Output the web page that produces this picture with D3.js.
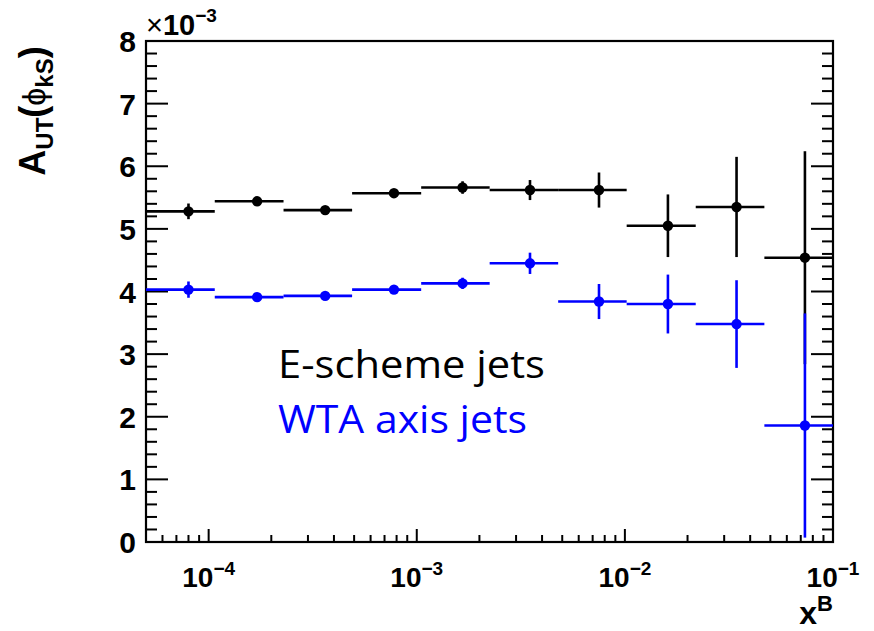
<!DOCTYPE html>
<html>
<head>
<meta charset="utf-8">
<script src="https://cdn.jsdelivr.net/npm/d3@7"></script>
<style>
  html, body { margin: 0; padding: 0; background: #fff; }
  svg { display: block; }
</style>
</head>
<body>
<svg id="chart" width="874" height="631"></svg>
<script>
// ---- data (values in units of 10^-3) ----
const binLow  = [5.0e-5, 1.07e-4, 2.29e-4, 4.89e-4, 1.05e-3, 2.24e-3, 4.78e-3, 1.02e-2, 2.19e-2, 4.68e-2];
const binHigh = [1.07e-4, 2.29e-4, 4.89e-4, 1.05e-3, 2.24e-3, 4.78e-3, 1.02e-2, 2.19e-2, 4.68e-2, 1.0e-1];
const xMean   = [8.0e-5, 1.71e-4, 3.63e-4, 7.77e-4, 1.66e-3, 3.50e-3, 7.51e-3, 1.61e-2, 3.44e-2, 7.33e-2];

const eschemeVal = [5.28, 5.44, 5.30, 5.57, 5.66, 5.62, 5.62, 5.05, 5.35, 4.54];
const eschemeErr = [0.125, 0.05, 0.04, 0.05, 0.10, 0.16, 0.28, 0.50, 0.80, 1.70];
const wtaVal     = [4.03, 3.91, 3.93, 4.03, 4.13, 4.45, 3.84, 3.80, 3.48, 1.86];
const wtaErr     = [0.13, 0.04, 0.04, 0.04, 0.09, 0.17, 0.28, 0.47, 0.70, 1.79];

const yTicks = [0, 1, 2, 3, 4, 5, 6, 7, 8];
const xMajor = [1e-4, 1e-3, 1e-2, 1e-1];
const xMajorExp = ["\u22124", "\u22123", "\u22122", "\u22121"];

const seriesNames = ["E-scheme jets", "WTA axis jets"];

// ---- layout ----
const svg = d3.select("#chart");
const L = 146, R = 833, T = 41, B = 542;
const x = d3.scaleLog().domain([5e-5, 0.1]).range([L, R]);
const y = d3.scaleLinear().domain([0, 8]).range([B, T]);
const font = "'Liberation Sans', Arial, Helvetica, sans-serif";

// ---- ticks ----
const tickG = svg.append("g").attr("stroke", "#000").attr("stroke-width", 2);
const yMinor = d3.range(0, 8.0001, 0.2).map(v => +v.toFixed(1));
yMinor.forEach(v => {
  const major = Math.abs(v - Math.round(v)) < 1e-6;
  const len = major ? 22 : 11;
  tickG.append("line").attr("x1", L).attr("x2", L + len).attr("y1", y(v)).attr("y2", y(v));
  tickG.append("line").attr("x1", R).attr("x2", R - len).attr("y1", y(v)).attr("y2", y(v));
});
const xTickVals = [];
[-5, -4, -3, -2].forEach(e => {
  for (let m = 1; m <= 9; m++) {
    const v = m * Math.pow(10, e);
    if (v >= 5e-5 * 1.0001 && v <= 0.1) xTickVals.push({v, major: m === 1});
  }
});
xTickVals.push({v: 0.1, major: true});
xTickVals.forEach(t => {
  const len = t.major ? 13 : 7;
  tickG.append("line").attr("x1", x(t.v)).attr("x2", x(t.v)).attr("y1", B).attr("y2", B - len);
});

// ---- frame ----
svg.append("rect").attr("x", L).attr("y", T).attr("width", R - L).attr("height", B - T)
  .attr("fill", "none").attr("stroke", "#000").attr("stroke-width", 2.2);

// ---- y tick labels ----
svg.append("g").selectAll("text").data(yTicks).join("text")
  .attr("x", 136).attr("y", d => y(d) + 11)
  .attr("text-anchor", "end")
  .attr("font-family", font).attr("font-weight", "bold").attr("font-size", 30)
  .attr("fill", "#000")
  .text(d => d);

// ---- x tick labels ----
xMajor.forEach((v, i) => {
  const t = svg.append("text")
    .attr("x", x(v)).attr("y", 587)
    .attr("text-anchor", "middle")
    .attr("font-family", font).attr("font-weight", "bold").attr("font-size", 28)
    .attr("fill", "#000");
  t.append("tspan").text("10");
  t.append("tspan").attr("font-size", 19).attr("dy", -12).text(xMajorExp[i]);
});

// ---- x10^-3 ----
const mult = svg.append("text").attr("x", 146).attr("y", 35)
  .attr("font-family", font).attr("font-size", 29).attr("fill", "#000");
mult.append("tspan").attr("font-weight", "normal").text("\u00d7");
mult.append("tspan").attr("font-weight", "bold").text("10");
mult.append("tspan").attr("font-weight", "bold").attr("font-size", 19).attr("dy", -13).text("\u22123");

// ---- axis titles ----
const yt = svg.append("text")
  .attr("transform", "translate(45,111) rotate(-90)")
  .attr("text-anchor", "middle")
  .attr("font-family", font).attr("font-weight", "bold").attr("font-size", 36)
  .attr("fill", "#000");
yt.append("tspan").text("A");
yt.append("tspan").attr("font-size", 24).attr("dy", 8).text("UT");
yt.append("tspan").attr("dy", -8).text("(");
yt.append("tspan").attr("font-weight", "normal").attr("font-size", 32).text("\u03d5");
yt.append("tspan").attr("font-size", 24).attr("dy", 8).text("kS");
yt.append("tspan").attr("dy", -8).text(")");

const xt = svg.append("text").attr("x", 833).attr("y", 624)
  .attr("text-anchor", "end")
  .attr("font-family", font).attr("font-weight", "bold").attr("font-size", 32)
  .attr("fill", "#000");
xt.append("tspan").text("x");
xt.append("tspan").attr("font-size", 22).attr("dy", -13).text("B");

// ---- data series ----
const series = [
  {vals: eschemeVal, errs: eschemeErr, color: "#000000"},
  {vals: wtaVal, errs: wtaErr, color: "#0000ff"}
];
series.forEach(s => {
  const g = svg.append("g");
  const idx = d3.range(s.vals.length);
  g.selectAll("line.h").data(idx).join("line").attr("class", "h")
    .attr("x1", i => x(binLow[i])).attr("x2", i => x(binHigh[i]))
    .attr("y1", i => y(s.vals[i])).attr("y2", i => y(s.vals[i]))
    .attr("stroke", s.color).attr("stroke-width", 2.6);
  g.selectAll("line.v").data(idx).join("line").attr("class", "v")
    .attr("x1", i => x(xMean[i])).attr("x2", i => x(xMean[i]))
    .attr("y1", i => y(s.vals[i] - s.errs[i])).attr("y2", i => y(s.vals[i] + s.errs[i]))
    .attr("stroke", s.color).attr("stroke-width", 2.6);
  g.selectAll("circle").data(idx).join("circle")
    .attr("cx", i => x(xMean[i])).attr("cy", i => y(s.vals[i]))
    .attr("r", 5.2).attr("fill", s.color);
});

// ---- legend text ----
svg.append("text").attr("x", 278).attr("y", 378)
  .attr("font-family", "'Open Sans', 'Noto Sans', sans-serif").attr("font-size", 38)
  .attr("textLength", 267).attr("lengthAdjust", "spacingAndGlyphs")
  .attr("fill", "#000").text(seriesNames[0]);
svg.append("text").attr("x", 278).attr("y", 433)
  .attr("font-family", "'Open Sans', 'Noto Sans', sans-serif").attr("font-size", 38)
  .attr("textLength", 249).attr("lengthAdjust", "spacingAndGlyphs")
  .attr("fill", "#0000ff").text(seriesNames[1]);
</script>
</body>
</html>
